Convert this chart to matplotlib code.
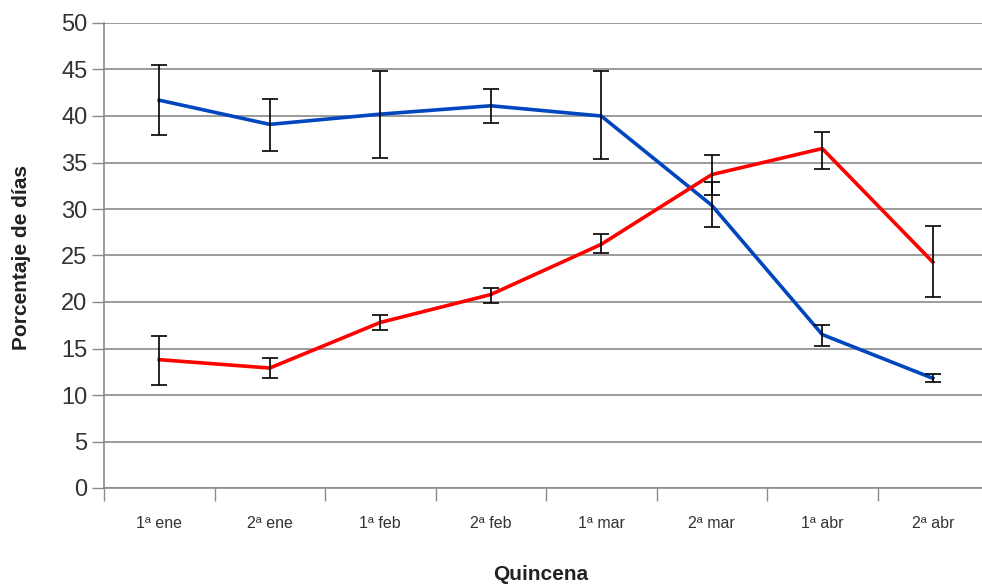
import matplotlib
matplotlib.use("Agg")
import matplotlib.pyplot as plt
import numpy as np

categories = ["1ª ene", "2ª ene", "1ª feb", "2ª feb", "1ª mar", "2ª mar", "1ª abr", "2ª abr"]
blue_mean = [41.7, 39.1, 40.2, 41.1, 40.0, 30.4, 16.5, 11.8]
blue_upper = [45.5, 41.8, 44.8, 42.9, 44.8, 32.9, 17.5, 12.3]
blue_lower = [38.0, 36.2, 35.5, 39.2, 35.4, 28.1, 15.3, 11.4]
red_mean = [13.8, 12.9, 17.8, 20.8, 26.2, 33.7, 36.5, 24.3]
red_upper = [16.3, 14.0, 18.6, 21.5, 27.3, 35.8, 38.3, 28.2]
red_lower = [11.1, 11.8, 17.0, 19.9, 25.3, 31.5, 34.3, 20.5]
yticks = [0, 5, 10, 15, 20, 25, 30, 35, 40, 45, 50]

FONT = ["Liberation Sans", "DejaVu Sans"]
W, H = 982, 587
fig = plt.figure(figsize=(W / 100, H / 100), dpi=100)
ax = fig.add_axes([104 / W, 1 - 488 / H, 884 / W, (488 - 23) / H])

x = np.arange(len(categories))
grid_c = "#8a8a8a"

ax.plot(x, blue_mean, color="#0046be", lw=2.6, zorder=3, solid_joinstyle="round")
ax.plot(x, red_mean, color="#ff0000", lw=2.6, zorder=3, solid_joinstyle="round")

for mean, up, lo in [(blue_mean, blue_upper, blue_lower), (red_mean, red_upper, red_lower)]:
    m = np.array(mean); u = np.array(up); l = np.array(lo)
    ax.errorbar(x, m, yerr=[m - l, u - m], fmt="none", ecolor="black",
                elinewidth=1.2, capsize=6, capthick=1.2, zorder=4)

ax.set_xlim(-0.5, 7.5)
ax.set_ylim(0, 50)
ax.set_yticks(yticks)
ax.set_yticklabels([str(t) for t in yticks], fontsize=17, color="#333333", family=FONT)
ax.yaxis.grid(True, color=grid_c, lw=1.2)
ax.set_axisbelow(True)
ax.tick_params(axis="y", length=9, width=1, color=grid_c, pad=3)

ax.set_xticks(x)
ax.set_xticklabels(categories, fontsize=11.5, color="#333333", family=FONT)
ax.set_xticks(np.arange(-0.5, 8.0, 1.0), minor=True)
ax.tick_params(axis="x", which="major", length=0, pad=20)
ax.tick_params(axis="x", which="minor", length=9, width=1, color=grid_c)

for s in ["top", "right"]:
    ax.spines[s].set_visible(False)
for s in ["left", "bottom"]:
    ax.spines[s].set_color(grid_c)
    ax.spines[s].set_linewidth(1.2)

fig.text(22 / W, 1 - 258 / H, "Porcentaje de días", rotation=90, ha="center", va="center",
         fontsize=15, fontweight="bold", color="#222222", family=FONT)
fig.text(541 / W, 1 - 575 / H, "Quincena", ha="center", va="center",
         fontsize=15, fontweight="bold", color="#222222", family=FONT)

fig.savefig("out.png", dpi=100)
